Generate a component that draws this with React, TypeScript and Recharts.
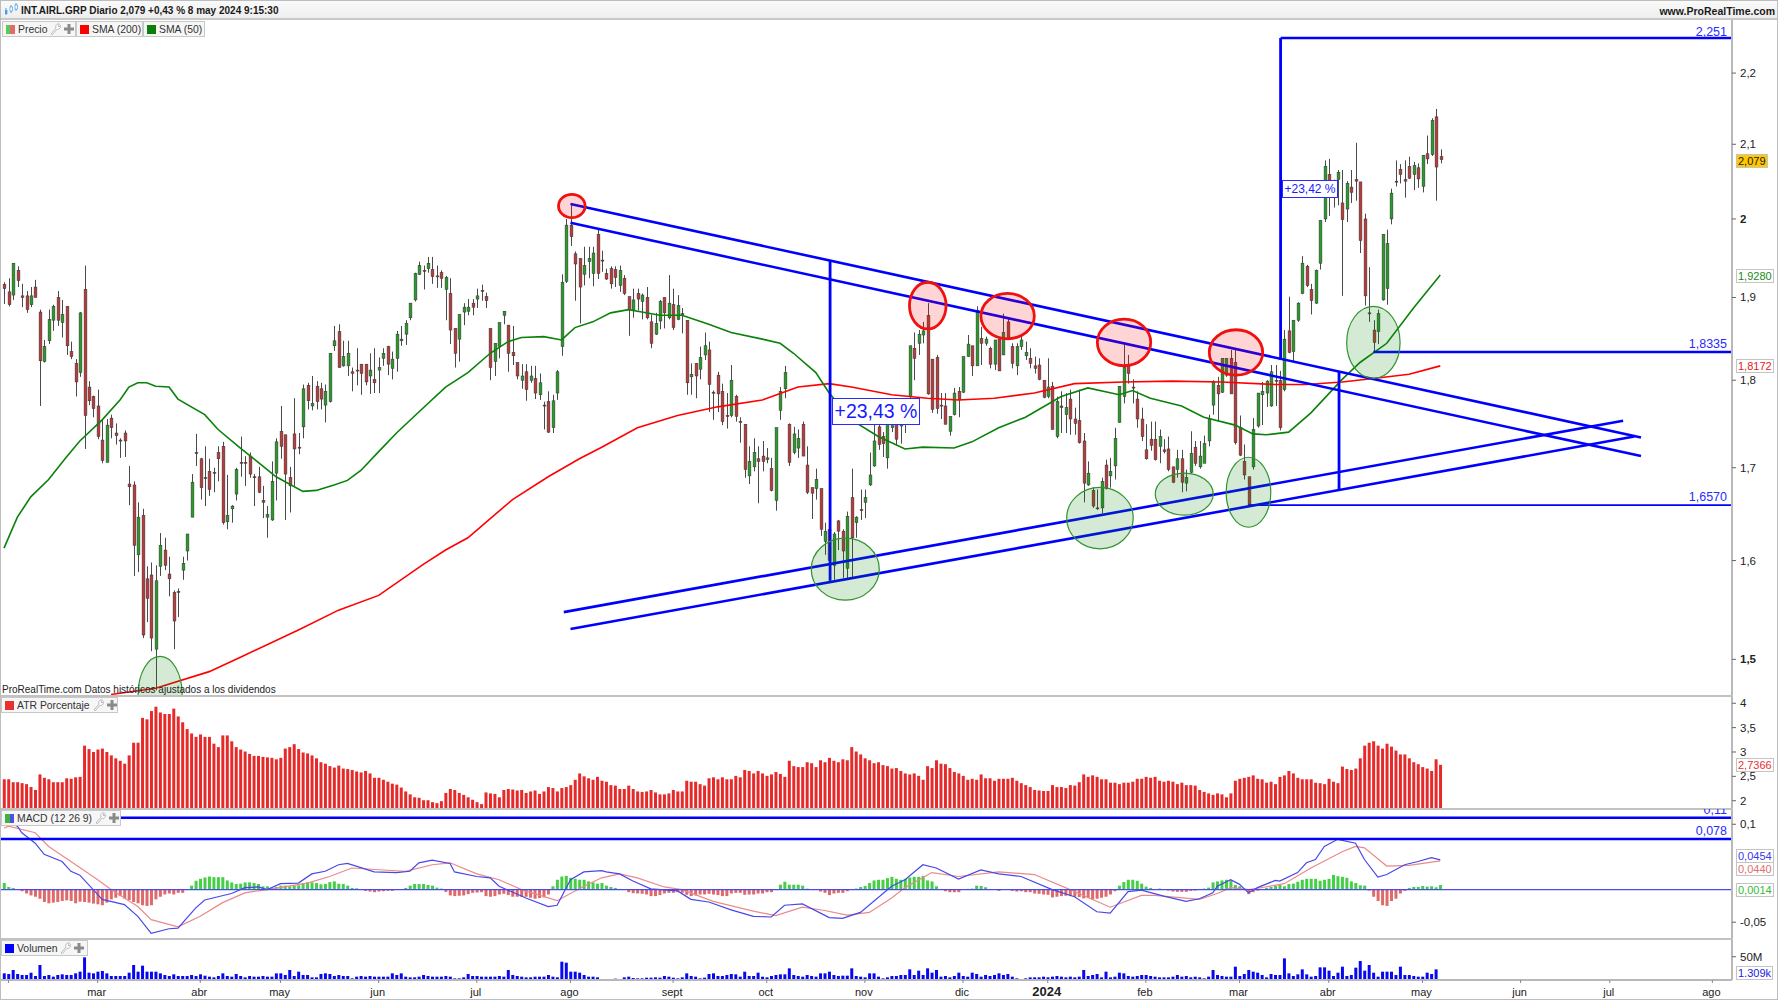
import React from "react";
import { ComposedChart, Bar, Line, XAxis, YAxis, ReferenceLine, ReferenceDot } from "recharts";

// ---- OHLC candles [open, high, low, close] ----
const candlesFebApr23 = [
[1.916,1.919,1.892,1.911],[1.907,1.924,1.889,1.891],[1.903,1.943,1.897,1.943],[1.934,1.939,1.913,1.921],[1.902,1.917,1.888,1.900],
[1.902,1.908,1.881,1.885],[1.891,1.913,1.888,1.902],[1.913,1.922,1.900,1.900],[1.882,1.885,1.770,1.823],[1.822,1.848,1.821,1.840],
[1.847,1.885,1.843,1.873],[1.872,1.891,1.859,1.889],[1.900,1.908,1.865,1.872],[1.869,1.897,1.851,1.879],[1.889,1.889,1.830,1.841],
[1.834,1.846,1.825,1.828],[1.820,1.825,1.781,1.798],[1.809,1.882,1.804,1.881],[1.910,1.940,1.721,1.759],[1.792,1.799,1.771,1.776],
[1.781,1.782,1.757,1.767],[1.770,1.789,1.732,1.735],[1.731,1.755,1.705,1.708],[1.706,1.755,1.706,1.748],[1.756,1.760,1.733,1.745],
[1.739,1.750,1.726,1.736],[1.731,1.733,1.711,1.730],[1.739,1.742,1.712,1.730],[1.682,1.702,1.659,1.679],[1.681,1.685,1.584,1.616],
[1.606,1.662,1.588,1.646],[1.648,1.655,1.521,1.524],[1.581,1.594,1.537,1.561],[1.585,1.598,1.508,1.521],[1.510,1.595,1.470,1.579],
[1.594,1.629,1.584,1.616],[1.611,1.624,1.590,1.595],[1.586,1.604,1.563,1.581],[1.567,1.569,1.510,1.538],[1.568,1.571,1.542,1.567],
[1.590,1.604,1.580,1.597],[1.610,1.628,1.600,1.628],[1.646,1.693,1.646,1.684],[1.717,1.738,1.702,1.716],[1.710,1.711,1.665,1.678],
[1.689,1.724,1.658,1.689],[1.696,1.710,1.669,1.676],[1.695,1.700,1.673,1.694],[1.717,1.724,1.685,1.710],[1.724,1.729,1.638,1.640],
[1.641,1.692,1.633,1.648],[1.655,1.659,1.640,1.658],[1.671,1.700,1.664,1.698],[1.706,1.735,1.690,1.705],[1.706,1.713,1.680,1.705],
[1.713,1.717,1.689,1.693],[1.690,1.693,1.658,1.689],[1.690,1.701,1.672,1.673],[1.664,1.680,1.645,1.662],[1.646,1.658,1.624,1.649],
[1.643,1.707,1.642,1.685],[1.694,1.733,1.664,1.729],[1.741,1.770,1.710,1.724],[1.737,1.737,1.643,1.693]];
const candlesMayAug23 = [
[1.689,1.701,1.651,1.680],[1.738,1.779,1.680,1.721],[1.723,1.739,1.715,1.722],[1.746,1.795,1.733,1.790],[1.794,1.797,1.766,1.776],
[1.770,1.805,1.765,1.773],[1.793,1.799,1.766,1.775],[1.790,1.797,1.766,1.778],[1.771,1.795,1.751,1.787],[1.775,1.832,1.774,1.832],
[1.841,1.865,1.835,1.847],[1.858,1.867,1.815,1.815],[1.817,1.847,1.816,1.828],[1.817,1.847,1.805,1.832],[1.810,1.815,1.787,1.808],
[1.812,1.838,1.794,1.811],[1.819,1.819,1.783,1.808],[1.819,1.819,1.794,1.798],[1.805,1.832,1.784,1.812],[1.801,1.838,1.785,1.797],
[1.812,1.827,1.785,1.815],[1.826,1.838,1.817,1.832],[1.840,1.841,1.806,1.819],[1.814,1.834,1.801,1.825],[1.826,1.859,1.810,1.855],
[1.847,1.865,1.841,1.849],[1.855,1.872,1.842,1.868],[1.875,1.893,1.872,1.893],[1.897,1.931,1.895,1.930],[1.929,1.945,1.928,1.940],
[1.934,1.940,1.910,1.933],[1.936,1.951,1.931,1.943],[1.935,1.951,1.917,1.926],[1.927,1.940,1.912,1.926],[1.931,1.934,1.912,1.924],
[1.910,1.927,1.872,1.925],[1.905,1.924,1.843,1.860],[1.862,1.862,1.815,1.832],[1.849,1.879,1.822,1.879],[1.882,1.893,1.866,1.888],
[1.883,1.898,1.878,1.888],[1.893,1.898,1.878,1.888],[1.898,1.911,1.887,1.902],[1.909,1.916,1.896,1.908],[1.901,1.906,1.887,1.896],
[1.862,1.862,1.800,1.815],[1.822,1.844,1.805,1.844],[1.840,1.869,1.826,1.869],[1.878,1.883,1.867,1.883],[1.866,1.866,1.810,1.832],
[1.833,1.865,1.818,1.829],[1.821,1.821,1.801,1.805],[1.800,1.819,1.790,1.805],[1.810,1.819,1.776,1.789],[1.800,1.817,1.797,1.805],
[1.802,1.817,1.778,1.785],[1.783,1.808,1.777,1.797],[1.771,1.775,1.743,1.770],[1.775,1.787,1.739,1.740],[1.745,1.783,1.739,1.776],
[1.785,1.812,1.777,1.810],[1.840,1.929,1.829,1.919],[1.920,2.000,1.918,1.992]];
const candlesAugOct23 = [
[1.992,2.018,1.965,1.977],[1.955,1.958,1.896,1.942],[1.949,1.949,1.868,1.913],[1.929,1.964,1.915,1.940],[1.945,1.964,1.924,1.949],
[1.930,1.964,1.914,1.956],[1.980,1.986,1.923,1.930],[1.947,1.959,1.932,1.946],[1.930,1.936,1.922,1.923],[1.936,1.939,1.911,1.917],
[1.935,1.939,1.913,1.925],[1.915,1.940,1.907,1.934],[1.924,1.928,1.903,1.905],[1.901,1.901,1.853,1.885],[1.884,1.911,1.875,1.897],
[1.905,1.911,1.884,1.898],[1.895,1.905,1.873,1.903],[1.900,1.913,1.873,1.875],[1.870,1.879,1.838,1.844],[1.855,1.881,1.854,1.868],
[1.871,1.897,1.861,1.895],[1.900,1.900,1.862,1.881],[1.875,1.928,1.873,1.893],[1.891,1.911,1.860,1.863],[1.873,1.903,1.872,1.890],
[1.880,1.887,1.856,1.879],[1.872,1.872,1.783,1.797],[1.804,1.820,1.783,1.807],[1.820,1.820,1.779,1.805],[1.813,1.840,1.801,1.827],
[1.830,1.857,1.824,1.841],[1.836,1.846,1.763,1.795],[1.786,1.788,1.754,1.785],[1.806,1.810,1.763,1.784],[1.787,1.796,1.748,1.752],
[1.759,1.785,1.744,1.758],[1.759,1.818,1.757,1.800],[1.781,1.783,1.752,1.758],[1.752,1.757,1.728,1.751],[1.749,1.749,1.689,1.698],
[1.691,1.724,1.682,1.707],[1.701,1.733,1.696,1.717],[1.710,1.724,1.661,1.707],[1.713,1.730,1.696,1.707],[1.709,1.722,1.705,1.711],
[1.699,1.711,1.674,1.675],[1.664,1.745,1.653,1.745],[1.765,1.792,1.754,1.787],[1.790,1.817,1.779,1.809],[1.749,1.750,1.702,1.706],
[1.717,1.746,1.715,1.738],[1.722,1.743,1.711,1.733],[1.749,1.752,1.713,1.713],[1.703,1.724,1.671,1.673],[1.678,1.678,1.644,1.672],
[1.677,1.699,1.665,1.687],[1.677,1.677,1.626,1.633],[1.620,1.640,1.606,1.631],[1.633,1.640,1.579,1.600],[1.595,1.630,1.580,1.628],
[1.642,1.643,1.611,1.631],[1.631,1.633,1.582,1.610],[1.592,1.652,1.582,1.647],[1.667,1.699,1.582,1.624]];
const candlesNov23Jan24 = [
[1.640,1.647,1.624,1.646],[1.654,1.676,1.643,1.653],[1.662,1.676,1.645,1.667],[1.681,1.717,1.680,1.692],[1.702,1.749,1.701,1.730],
[1.746,1.760,1.720,1.726],[1.735,1.740,1.712,1.727],[1.711,1.750,1.699,1.749],[1.745,1.760,1.740,1.749],[1.749,1.760,1.725,1.732],
[1.747,1.760,1.727,1.749],[1.752,1.766,1.739,1.756],[1.781,1.841,1.775,1.841],[1.838,1.857,1.800,1.826],[1.844,1.860,1.830,1.855],
[1.854,1.870,1.844,1.859],[1.878,1.893,1.783,1.784],[1.825,1.825,1.762,1.766],[1.827,1.830,1.761,1.767],[1.771,1.785,1.755,1.770],
[1.770,1.785,1.749,1.749],[1.741,1.758,1.736,1.758],[1.760,1.791,1.759,1.785],[1.787,1.792,1.757,1.777],[1.786,1.828,1.785,1.828],
[1.828,1.854,1.828,1.843],[1.841,1.841,1.805,1.817],[1.817,1.889,1.817,1.884],[1.850,1.864,1.818,1.844],[1.844,1.852,1.841,1.849],
[1.838,1.840,1.814,1.819],[1.819,1.848,1.812,1.848],[1.849,1.849,1.811,1.811],[1.830,1.880,1.830,1.857],[1.870,1.874,1.848,1.850],
[1.840,1.844,1.814,1.820],[1.817,1.844,1.806,1.840],[1.840,1.852,1.836,1.848],[1.829,1.846,1.824,1.833],[1.826,1.838,1.814,1.820],
[1.817,1.828,1.808,1.814],[1.818,1.826,1.800,1.801],[1.800,1.800,1.779,1.780],[1.781,1.826,1.779,1.792],[1.793,1.798,1.743,1.743],
[1.735,1.781,1.733,1.775],[1.770,1.787,1.739,1.768],[1.760,1.785,1.739,1.768],[1.778,1.789,1.737,1.755],[1.755,1.768,1.737,1.750],
[1.753,1.789,1.727,1.728],[1.730,1.739,1.662,1.683],[1.681,1.707,1.680,1.694],[1.675,1.678,1.656,1.658],[1.656,1.676,1.654,1.655],
[1.656,1.689,1.650,1.685],[1.703,1.709,1.676,1.677],[1.691,1.711,1.678,1.696],[1.702,1.745,1.687,1.733]];
const candlesFebMay24 = [
[1.751,1.793,1.751,1.793],[1.781,1.842,1.773,1.815],[1.818,1.830,1.796,1.808],[1.792,1.801,1.773,1.791],[1.778,1.787,1.745,1.755],
[1.755,1.768,1.730,1.735],[1.720,1.749,1.709,1.710],[1.732,1.752,1.719,1.725],[1.732,1.752,1.708,1.709],[1.724,1.743,1.705,1.735],
[1.720,1.732,1.716,1.718],[1.721,1.735,1.696,1.698],[1.701,1.701,1.683,1.684],[1.698,1.720,1.689,1.710],[1.710,1.720,1.673,1.684],
[1.683,1.698,1.674,1.689],[1.695,1.741,1.694,1.716],[1.723,1.730,1.702,1.705],[1.701,1.730,1.699,1.713],[1.705,1.736,1.705,1.727],
[1.730,1.760,1.724,1.755],[1.771,1.800,1.760,1.798],[1.794,1.804,1.752,1.784],[1.786,1.826,1.785,1.826],[1.806,1.826,1.804,1.826],
[1.826,1.836,1.784,1.784],[1.821,1.836,1.726,1.728],[1.745,1.759,1.713,1.714],[1.707,1.726,1.687,1.692],[1.690,1.690,1.658,1.659],
[1.701,1.756,1.698,1.743],[1.747,1.785,1.745,1.785],[1.783,1.798,1.748,1.787],[1.785,1.800,1.769,1.799],[1.770,1.818,1.769,1.810],
[1.800,1.818,1.770,1.799],[1.800,1.811,1.742,1.745],[1.789,1.860,1.787,1.849],[1.859,1.901,1.832,1.833],[1.834,1.872,1.822,1.872],
[1.872,1.894,1.870,1.893],[1.905,1.952,1.904,1.943],[1.939,1.941,1.913,1.915],[1.910,1.917,1.879,1.896],[1.893,1.935,1.892,1.934],
[1.943,1.998,1.935,1.998],[2.000,2.078,1.996,2.070],[2.059,2.080,2.004,2.048],[2.040,2.052,2.015,2.030],[2.052,2.065,2.018,2.062],
[2.021,2.065,1.902,1.999],[2.013,2.050,1.996,2.047],[2.042,2.065,2.021,2.035],[2.052,2.102,2.024,2.050],[2.049,2.049,1.956,1.972],
[2.000,2.007,1.890,1.902],[1.881,1.938,1.870,1.880],[1.860,1.872,1.8335,1.845],[1.858,1.885,1.843,1.880],[1.897,1.980,1.896,1.980],
[1.911,1.986,1.891,1.968],[2.000,2.040,1.993,2.034],[2.050,2.078,2.043,2.049],[2.066,2.073,2.047,2.059],[2.052,2.078,2.028,2.050],
[2.070,2.083,2.053,2.054],[2.059,2.076,2.038,2.071],[2.068,2.074,2.041,2.053],[2.043,2.085,2.035,2.085],[2.087,2.112,2.073,2.080],
[2.086,2.136,2.084,2.133],[2.138,2.149,2.024,2.069],[2.083,2.093,2.074,2.079]];
const candles = [...candlesFebApr23, ...candlesMayAug23, ...candlesAugOct23, ...candlesNov23Jan24, ...candlesFebMay24];

// ---- moving averages read at [bar, value] ----
const sma50 = [[0,1.613],[3,1.646],[6,1.668],[10,1.687],[14,1.712],[17,1.730],[22,1.754],[26,1.777],[28,1.792],[30,1.797],[32,1.797],[34,1.793],[37,1.792],[39,1.778],[45,1.760],[48,1.743],[53,1.722],[57,1.706],[61,1.690],[67,1.674],[70,1.675],[74,1.681],[77,1.686],[80,1.697],[84,1.718],[88,1.739],[93,1.763],[99,1.792],[104,1.809],[109,1.832],[113,1.846],[116,1.851],[121,1.852],[125,1.848],[128,1.863],[132,1.870],[136,1.881],[140,1.885],[143,1.882],[147,1.878],[152,1.878],[158,1.867],[163,1.857],[170,1.849],[174,1.844],[177,1.832],[182,1.809],[185,1.785],[190,1.754],[196,1.735],[202,1.721],[206,1.723],[213,1.722],[217,1.729],[223,1.745],[229,1.757],[237,1.781],[243,1.791],[250,1.783],[253,1.788],[257,1.779],[264,1.770],[269,1.757],[276,1.748],[280,1.738],[283,1.737],[288,1.740],[293,1.762],[300,1.801],[304,1.821],[310,1.844],[316,1.887],[322,1.928]];
const sma200 = [[24,1.466],[34,1.472],[46,1.488],[53,1.502],[66,1.529],[75,1.549],[84,1.564],[94,1.596],[99,1.611],[104,1.624],[114,1.665],[122,1.690],[129,1.710],[134,1.723],[142,1.745],[151,1.759],[160,1.769],[170,1.777],[178,1.792],[185,1.796],[190,1.792],[199,1.783],[207,1.779],[214,1.777],[222,1.779],[231,1.785],[240,1.796],[251,1.798],[262,1.799],[273,1.798],[285,1.795],[292,1.795],[300,1.798],[307,1.802],[315,1.807],[322,1.817]];

// ---- ATR % ----
const atrA = [2.44,2.44,2.38,2.38,2.36,2.34,2.28,2.22,2.54,2.47,2.44,2.38,2.38,2.38,2.46,2.45,2.48,2.49,3.13,3.06,3.00,3.05,3.07,3.00,2.93,2.87,2.82,2.76,2.93,3.19,3.19,3.70,3.67,3.84,3.93,3.81,3.78,3.78,3.89,3.73,3.61,3.47,3.38,3.31,3.36,3.31,3.31,3.17,3.10,3.34,3.34,3.22,3.10,3.05,3.01,2.96,2.92,2.92,2.90,2.89,2.88,2.85,2.88,3.07,3.10,3.16,3.06,2.99,2.97,2.93,2.87,2.79,2.76,2.71,2.68,2.72,2.66,2.65,2.63,2.60,2.58,2.61,2.56,2.47,2.47,2.43,2.39,2.35,2.33,2.27,2.19,2.13,2.07,2.06,2.01,2.01,1.97,1.95,1.99,2.16,2.24,2.22,2.16,2.12,2.07,2.02,1.97,1.93,2.17,2.15,2.14,2.07,2.22,2.24,2.23,2.21,2.22,2.16,2.19,2.21,2.14,2.19,2.28,2.26,2.19,2.26,2.28,2.32,2.43,2.56,2.50,2.46,2.43,2.49];
const atrB = [2.41,2.39,2.32,2.31,2.24,2.24,2.31,2.24,2.19,2.18,2.19,2.22,2.17,2.13,2.13,2.15,2.22,2.19,2.19,2.41,2.39,2.39,2.34,2.31,2.46,2.48,2.44,2.48,2.44,2.44,2.51,2.48,2.63,2.61,2.56,2.61,2.56,2.51,2.54,2.59,2.55,2.49,2.82,2.71,2.69,2.69,2.79,2.77,2.69,2.83,2.79,2.88,2.82,2.79,2.85,2.83,3.10,3.01,2.95,2.87,2.83,2.77,2.79,2.73,2.71,2.66,2.67,2.61,2.56,2.54,2.56,2.51,2.43,2.71,2.67,2.83,2.76,2.75,2.67,2.59,2.56,2.51,2.43,2.45,2.43,2.54,2.46,2.46,2.41,2.45,2.45,2.45,2.47,2.41,2.36,2.32,2.28,2.22,2.21,2.20,2.20,2.32,2.28,2.28,2.26,2.32,2.31,2.38,2.54,2.49,2.52,2.49,2.44,2.44,2.37,2.37,2.34,2.37,2.37,2.39,2.45,2.45,2.49,2.47,2.49,2.41,2.39,2.41,2.39,2.34,2.37,2.32,2.32,2.31,2.22];
const atrC = [2.18,2.15,2.12,2.15,2.13,2.07,2.15,2.41,2.45,2.47,2.49,2.52,2.45,2.44,2.37,2.39,2.34,2.49,2.52,2.61,2.56,2.47,2.44,2.44,2.44,2.37,2.36,2.34,2.45,2.39,2.36,2.70,2.65,2.63,2.66,2.87,3.13,3.19,3.22,3.13,3.07,3.17,3.11,3.03,2.95,2.95,2.87,2.79,2.75,2.69,2.66,2.61,2.85,2.7366];
const atrPct = [...atrA, ...atrB, ...atrC];

// ---- MACD ----
const macdHistA = [10,4,2.5,0,-2.5,-6,-9,-11,-14,-19,-21,-20,-19,-17.5,-16.5,-17.5,-21,-18.5,-19,-20,-21.5,-22.5,-24,-20,-15,-12.5,-10,-14,-16,-19,-21,-24,-25,-24,-15,-11,-7.5,-6,-7.5,-5,-5,0,6,13.5,16.5,18.5,20,19,19,19,14,11,8.5,9,11,11,10,8.5,5,5,2.5,4,6,6,5,6,6.5,10,11,11,10,8,8.5,11.5,12.5,9,8.5,6,2.5,2,0,-2,-3,-4,-3,-2.5,-2,-2,0,0,2.5,6,8.5,8.5,8.5,7,6,3,1.5,-3.5,-9,-10,-9.5,-9,-7,-5,-4.5,-4,-10,-11,-10,-7.5,-6.5,-8.5,-11,-11,-11,-11,-12.5,-14,-13,-12,-7.5,5,15,20,21,18,16.5,15,15,12.5,11,9];
const macdHistB = [10,6,4,2.5,1,0,-4,-5.5,-6,-6.5,-7.5,-10,-10,-8.5,-6,-5,-5,-4,-5,-8,-10,-9,-7.5,-7.5,-6.5,-7.5,-8.5,-10,-10,-6,-5,-5,-8,-7.5,-7.5,-6,-6,-4,-4,0,7.5,12,7.5,7.5,7.5,6,1.5,0,0,-3,-5,-8.5,-6,-5,-5,-2.5,0,1.5,4,5.5,10,14,15,15,17.5,19.5,16.5,15,16.5,18.5,19.5,19.5,21,14,12.5,5,1,-2.5,-4,-4,-4,0,1,1.5,6,5.5,3.5,1,0.5,-2,0,0,-2,-3,-2.5,-4,-4,-6,-6.5,-7.5,-8,-12,-11,-10,-9.5,-10,-11,-11.5,-13.5,-13,-15,-14,-12.5,-11,-7.5,-2.5,6,11.5,15,15,13.5,9,4.5,2.5,0,1.5,0,-1.5,-3,-3.5,-3.5,-3.5,-2,-1.5,1];
const macdHistC = [1.5,3,11,12.5,14,15,14,7,5,1.5,-7,-4,-1.5,1,2.5,4,5.5,7,5,8.5,9,12,15,16.5,16.5,16.5,13.5,15,16.5,22.5,20.5,19.5,18,12.5,10,6.5,6,-1.5,-11,-17.5,-24,-25,-17.5,-14,-6,-2,2.5,4,4,5.5,4.5,5,3.5,7];
const macdHist = [...macdHistA, ...macdHistB, ...macdHistC, 4, 1.4].slice(0, 323);
const macdLine = [[0,0.1046],[3,0.097],[4,0.087],[7,0.071],[9,0.054],[13,0.043],[15,0.028],[17,0.022],[20,0],[22,-0.015],[27,-0.023],[30,-0.041],[33,-0.067],[37,-0.060],[39,-0.059],[43,-0.028],[45,-0.016],[51,-0.006],[54,0.003],[57,0.004],[59,0],[62,0.009],[66,0.010],[69,0.024],[72,0.028],[75,0.038],[77,0.040],[83,0.027],[88,0.026],[91,0.028],[93,0.041],[96,0.045],[100,0.040],[101,0.027],[106,0.020],[109,0.018],[111,0.005],[117,-0.013],[122,-0.026],[124,-0.024],[127,0.015],[130,0.027],[134,0.029],[135,0.027],[138,0.024],[141,0.013],[145,0.001],[151,-0.002],[154,-0.015],[158,-0.019],[163,-0.031],[168,-0.041],[172,-0.042],[175,-0.024],[179,-0.022],[185,-0.043],[188,-0.044],[192,-0.035],[199,0.005],[202,0.015],[206,0.038],[209,0.033],[214,0.016],[219,0.030],[223,0.024],[228,0.020],[235,0],[240,-0.011],[245,-0.034],[248,-0.036],[252,-0.003],[255,-0.001],[260,-0.010],[265,-0.018],[268,-0.014],[271,-0.005],[272,0.005],[275,0.015],[277,0.008],[279,-0.005],[281,0.003],[285,0.014],[286,0.013],[290,0.026],[292,0.041],[294,0.046],[296,0.066],[299,0.077],[303,0.071],[305,0.046],[308,0.019],[310,0.023],[314,0.038],[317,0.043],[320,0.049],[322,0.0454]];
const signalLine = [[0,0.094],[1,0.097],[7,0.087],[10,0.066],[15,0.043],[21,0.015],[24,0],[30,-0.026],[33,-0.046],[39,-0.057],[44,-0.041],[49,-0.020],[54,-0.005],[59,0],[68,0.010],[73,0.020],[78,0.033],[85,0.030],[90,0.028],[96,0.038],[100,0.041],[106,0.024],[111,0.015],[116,0],[124,-0.017],[130,0.005],[134,0.018],[138,0.024],[142,0.018],[148,0.004],[152,0],[159,-0.018],[168,-0.033],[173,-0.040],[179,-0.027],[184,-0.032],[189,-0.039],[194,-0.035],[199,-0.013],[202,0.003],[208,0.026],[214,0.020],[223,0.027],[231,0.023],[239,0],[248,-0.027],[255,-0.009],[258,-0.009],[268,-0.015],[272,-0.006],[275,0.003],[279,0],[281,0.002],[287,0.009],[293,0.033],[300,0.058],[303,0.066],[305,0.064],[310,0.036],[315,0.037],[322,0.044]];

// ---- volume, unit = 0.715 M shares ----
const VOLUME_UNIT_M = 0.715;
const volA = [20,18,30,18,15,15,22,12,45,12,15,10,15,17,15,15,20,25,68,22,20,25,27,20,12,12,12,12,22,45,25,43,25,25,25,20,15,12,17,12,12,12,15,12,17,13,10,8,12,20,12,10,18,12,8,12,10,10,12,10,10,20,20,15,30,12,25,15,15,8,8,18,20,18,12,15,12,12,5,10,12,10,12,10,10,10,10,20,15,20,10,8,8,10,15,12,10,10,10,12,10,5,5,8,18,12,12,10,10,10,10,12,10,30,15,12,10,8,8,10,10,10,15,10,8,55,52,25,25,22,15,10,10,8];
const volB = [3,3,3,4,3,8,10,6,5,5,7,7,8,7,12,10,7,5,8,20,12,10,5,7,18,20,12,12,15,18,17,10,25,12,12,22,10,8,12,15,17,17,35,15,12,10,15,12,10,20,20,25,15,12,13,13,35,12,10,8,20,20,10,5,8,12,12,15,15,32,15,28,15,35,22,30,10,12,8,12,22,12,10,22,18,10,15,12,15,20,15,18,10,5,3,5,8,8,8,10,8,10,12,10,8,10,8,10,30,12,15,18,8,25,8,10,22,20,12,10,12,15,15,12,10,8,8,8,10,15,10,12,8,10,8];
const volC = [5,10,30,15,12,10,10,40,12,18,30,25,22,15,8,18,15,15,65,20,12,17,32,17,10,12,38,38,28,12,22,40,12,15,37,57,28,45,22,10,25,25,25,15,40,15,15,12,10,10,22,18,32,2];
const volumeLots = [...volA, ...volB, ...volC];

// ---- axes ----
const priceTicks = [1.5, 1.6, 1.7, 1.8, 1.9, 2, 2.1, 2.2];
const atrTicks = [2, 2.5, 3, 3.5, 4];
const macdTicks = [-0.05, 0.1];
const volumeTicks = [50];
const monthTickBars = [1, 21, 44, 62, 84, 106, 127, 150, 171, 193, 215, 234, 256, 277, 297, 318, 340, 360, 383];
const monthTickLabels = ["", "mar", "abr", "may", "jun", "jul", "ago", "sept", "oct", "nov", "dic", "2024", "feb", "mar", "abr", "may", "jun", "jul", "ago"];

// ---- drawn annotations, in bar / price units ----
const trendLines = [
  [127, 2.0197, 367, 1.734],
  [127, 1.995, 367, 1.713],
  [125.5, 1.547, 363, 1.753],
  [127, 1.53, 365.5, 1.735],
];
const verticalLines = [
  [185.2, 1.946, 1.579],
  [286.2, 2.251, 1.824],
  [299.3, 1.81, 1.675],
];
const levelLines = [
  [286.2, 2.251, 2.6],
  [307, 1.8335, 2.6],
  [279, 1.659, 1.6],
];
const redEllipses = [[127.3, 2.017, 13.3, 11.7], [207.1, 1.89, 18.3, 23.3], [225, 1.877, 26.7, 22.7], [251.1, 1.845, 26.7, 23.3], [276.2, 1.833, 26.7, 22.7]];
const greenEllipses = [[35, 1.466, 22, 38], [188.6, 1.591, 34, 31], [245.7, 1.645, 33.3, 30.7], [264.6, 1.671, 29, 21], [279, 1.673, 22.3, 35], [307, 1.845, 26.7, 36]];

// ---- build rows ----
const rows: any[] = candles.map((c, i) => ({
  i, o: c[0], h: c[1], l: c[2], c: c[3], range: [c[2], c[1]],
  atr: atrPct[i], hist: (macdHist[i] ?? 0) / 1000, vol: (volumeLots[i] ?? 0) * VOLUME_UNIT_M,
}));
const put = (pts: number[][], key: string) => pts.forEach(([i, v]) => { if (rows[i]) rows[i][key] = v; });
put(sma50, "sma50"); put(sma200, "sma200"); put(macdLine, "macd"); put(signalLine, "signal");

const W = 1778, AXIS_W = 46, BLUE = "#0000ff", FONT = "'Liberation Sans', Arial, sans-serif";
const XDOMAIN: [number, number] = [-0.897, 387.4];
const comma = (v: number) => String(v).replace(".", ",");

const Candle = (p: any) => {
  const { x, y, width, height, payload } = p;
  const { o, h, l, c } = payload;
  const cx = Math.round(x + width / 2) + 0.5;
  const k = h > l ? height / Math.log(h / l) : 0;
  const yOf = (v: number) => y + Math.log(h / v) * k;
  const top = yOf(Math.max(o, c)), bot = yOf(Math.min(o, c));
  return (
    <g>
      <line x1={cx} x2={cx} y1={y} y2={y + height} stroke="#4a4a4a" strokeWidth={1} />
      <rect x={cx - 1.4} y={top} width={2.8} height={Math.max(bot - top, 1)} fill={c >= o ? "#2a9a2a" : "#b83c3c"} stroke="#333" strokeWidth={0.5} />
    </g>
  );
};

const HistBar = (p: any) => {
  const { x, y, width, height, payload } = p;
  return <rect x={x} y={Math.min(y, y + height)} width={width} height={Math.abs(height)} fill={payload.hist >= 0 ? "#44cf44" : "#e06a6a"} />;
};

const axisTick = (fmt: (v: number) => string, boldSet: number[] = []) => (p: any) => (
  <text x={p.x + 2} y={p.y + 4} fontSize={11.5} fontFamily={FONT} fontWeight={boldSet.includes(p.payload.value) ? 700 : 400} fill="#222">
    {fmt(p.payload.value)}
  </text>
);

const monthTick = (p: any) => {
  const label = monthTickLabels[monthTickBars.indexOf(p.payload.value)];
  const bold = label === "2024";
  return (
    <text x={p.x - 1} y={p.y + 11} textAnchor="middle" fontSize={bold ? 13 : 11} fontWeight={bold ? 700 : 400} fontFamily={FONT} fill="#222">
      {label}
    </text>
  );
};

const seg = (x1: number, y1: number, x2: number, y2: number): any => [{ x: x1, y: y1 }, { x: x2, y: y2 }];

const Wrench = () => (
  <svg width="11" height="12" viewBox="0 0 11 12" style={{ marginLeft: 3 }}>
    <path d="M1 11 L6 5 C5 2 7 0.5 9.5 1 L8 3 L9 4 L10.5 2.5 C11 5 9 7 7 6.2 L2.5 11.5 Z" fill="#fff" stroke="#aaa" strokeWidth="0.8" />
  </svg>
);
const Plus = () => (
  <svg width="10" height="10" viewBox="0 0 10 10" style={{ marginLeft: 3 }}>
    <path d="M3.5 0 H6.5 V3.5 H10 V6.5 H6.5 V10 H3.5 V6.5 H0 V3.5 H3.5 Z" fill="#8a8a8a" />
  </svg>
);
const Legend = ({ left, top, width, children }: any) => (
  <div style={{ position: "absolute", left, top, width, height: 16, background: "#f6f6f6", border: "1px solid #c8c8c8", boxSizing: "border-box", display: "flex", alignItems: "center", fontSize: 10.4, color: "#333", paddingLeft: 3, whiteSpace: "nowrap", zIndex: 5 }}>
    {children}
  </div>
);
const Sw = ({ c, c2 }: any) => (
  <span style={{ display: "inline-block", width: 9, height: 9, marginRight: 3, background: c2 ? `linear-gradient(90deg, ${c} 50%, ${c2} 50%)` : c }} />
);
const Tag = ({ top, color, text, bg = "#fff" }: any) => (
  <div style={{ position: "absolute", left: 1736, top, height: 14, padding: "0 1px", lineHeight: "13px", fontSize: 11, color, background: bg, border: "1px solid #c4c4c4", boxSizing: "border-box", zIndex: 5 }}>{text}</div>
);
const Lvl = ({ top, text, right = 51 }: any) => (
  <div style={{ position: "absolute", right, top, fontSize: 12.5, lineHeight: "14px", color: "#2a2aff", zIndex: 4 }}>{text}</div>
);
const Panel = ({ top, height, children }: any) => (
  <div style={{ position: "absolute", left: 0, top, width: W, height, background: "#fff", overflow: "hidden" }}>{children}</div>
);

const hideX = <XAxis type="number" dataKey="i" domain={XDOMAIN} hide allowDataOverflow />;

export default function App() {
  return (
    <div style={{ position: "absolute", left: 0, top: 0, width: W, height: 1000, background: "#fff", overflow: "hidden", fontFamily: FONT }}>
      {/* price panel */}
      <Panel top={20} height={676}>
        <ComposedChart width={W} height={676} data={rows} margin={{ top: 0, right: 0, bottom: 0, left: 0 }}>
          {hideX}
          <YAxis yAxisId="p" orientation="right" width={AXIS_W} scale="log" type="number" domain={[1.4645, 2.2776]} allowDataOverflow ticks={priceTicks} interval={0}
            tick={axisTick(comma, [2, 1.5])} tickSize={4} axisLine={{ stroke: "#b8b8b8", strokeWidth: 2 }} tickLine={{ stroke: "#666" }} />
          <Bar yAxisId="p" dataKey="range" barSize={3} shape={Candle} isAnimationActive={false} />
          <Line yAxisId="p" dataKey="sma200" type="linear" stroke="#ff0000" strokeWidth={1.6} dot={false} connectNulls isAnimationActive={false} />
          <Line yAxisId="p" dataKey="sma50" type="linear" stroke="#0a820a" strokeWidth={1.6} dot={false} connectNulls isAnimationActive={false} />
          {greenEllipses.map((e, n) => (
            <ReferenceDot key={"g" + n} yAxisId="p" x={e[0]} y={e[1]} r={1} ifOverflow="visible"
              shape={(p: any) => <ellipse cx={p.cx} cy={p.cy} rx={e[2]} ry={e[3]} fill="rgba(0,128,0,0.17)" stroke="#2f932f" strokeWidth={1.2} />} />
          ))}
          {redEllipses.map((e, n) => (
            <ReferenceDot key={"r" + n} yAxisId="p" x={e[0]} y={e[1]} r={1} ifOverflow="visible"
              shape={(p: any) => <ellipse cx={p.cx} cy={p.cy} rx={e[2]} ry={e[3]} fill="rgba(255,0,0,0.17)" stroke="#f01010" strokeWidth={2.8} />} />
          ))}
          {trendLines.map((t, n) => (
            <ReferenceLine key={"t" + n} yAxisId="p" segment={seg(t[0], t[1], t[2], t[3])} stroke={BLUE} strokeWidth={2.6} ifOverflow="visible" />
          ))}
          {verticalLines.map((t, n) => (
            <ReferenceLine key={"v" + n} yAxisId="p" segment={seg(t[0], t[1], t[0], t[2])} stroke={BLUE} strokeWidth={2.8} ifOverflow="visible" />
          ))}
          {levelLines.map((t, n) => (
            <ReferenceLine key={"l" + n} yAxisId="p" segment={seg(t[0], t[1], XDOMAIN[1], t[1])} stroke={BLUE} strokeWidth={t[2]} ifOverflow="visible" />
          ))}
        </ComposedChart>
      </Panel>

      {/* ATR panel */}
      <Panel top={696} height={113}>
        <ComposedChart width={W} height={113} data={rows} margin={{ top: 0, right: 0, bottom: 0, left: 0 }}>
          {hideX}
          <YAxis orientation="right" width={AXIS_W} type="number" domain={[1.83, 4.149]} allowDataOverflow ticks={atrTicks} interval={0}
            tick={axisTick(comma)} tickSize={4} axisLine={{ stroke: "#b8b8b8", strokeWidth: 2 }} tickLine={{ stroke: "#666" }} />
          <Bar dataKey="atr" barSize={3} fill="#e62a2a" isAnimationActive={false} />
        </ComposedChart>
      </Panel>

      {/* MACD panel */}
      <Panel top={809} height={130}>
        <ComposedChart width={W} height={130} data={rows} margin={{ top: 0, right: 0, bottom: 0, left: 0 }}>
          {hideX}
          <YAxis orientation="right" width={AXIS_W} type="number" domain={[-0.0757, 0.1234]} allowDataOverflow ticks={macdTicks} interval={0}
            tick={axisTick(comma)} tickSize={4} axisLine={{ stroke: "#b8b8b8", strokeWidth: 2 }} tickLine={{ stroke: "#666" }} />
          <Bar dataKey="hist" barSize={3} shape={HistBar} isAnimationActive={false} />
          <Line dataKey="signal" type="linear" stroke="#ea8a8a" strokeWidth={1.2} dot={false} connectNulls isAnimationActive={false} />
          <Line dataKey="macd" type="linear" stroke="#4848e8" strokeWidth={1.2} dot={false} connectNulls isAnimationActive={false} />
          <ReferenceLine y={0} stroke="#4a4af0" strokeWidth={1.3} />
          <ReferenceLine y={0.11} stroke={BLUE} strokeWidth={2.4} />
          <ReferenceLine y={0.0775} stroke={BLUE} strokeWidth={2.4} />
        </ComposedChart>
      </Panel>

      {/* volume panel + time axis */}
      <Panel top={939} height={61}>
        <ComposedChart width={W} height={61} data={rows} margin={{ top: 0, right: 0, bottom: 0, left: 0 }}>
          <XAxis type="number" dataKey="i" domain={XDOMAIN} allowDataOverflow height={20} ticks={monthTickBars} interval={0} tick={monthTick} tickSize={3}
            axisLine={{ stroke: "#b8b8b8", strokeWidth: 2 }} tickLine={{ stroke: "#888" }} />
          <YAxis orientation="right" width={AXIS_W} type="number" domain={[0, 88]} allowDataOverflow ticks={volumeTicks} interval={0}
            tick={axisTick((v) => v + "M")} tickSize={4} axisLine={{ stroke: "#b8b8b8", strokeWidth: 2 }} tickLine={{ stroke: "#666" }} />
          <Bar dataKey="vol" barSize={3} fill="#0808f0" isAnimationActive={false} />
        </ComposedChart>
      </Panel>

      {/* panel separators and frame */}
      {[695, 808, 938].map((t) => <div key={t} style={{ position: "absolute", left: 0, top: t, width: 1733, height: 2, background: "#c2c2c2", zIndex: 3 }} />)}
      <div style={{ position: "absolute", left: 0, top: 0, width: W, height: 1000, border: "1px solid #bdbdbd", boxSizing: "border-box", zIndex: 6, pointerEvents: "none" }} />

      {/* header */}
      <div style={{ position: "absolute", left: 0, top: 0, width: W, height: 20, background: "linear-gradient(#fbfbfb,#eeeeee)", borderBottom: "2px solid #c8c8c8", boxSizing: "border-box", zIndex: 5 }}>
        <svg width="14" height="13" style={{ position: "absolute", left: 4, top: 3 }}>
          <path d="M2 5 V12 M7 2 V10 M12 0 V8" stroke="#4aa0e8" strokeWidth="1" />
          <rect x="1" y="7" width="2.4" height="4" fill="#4aa0e8" /><rect x="6" y="4" width="2.4" height="4" fill="#fff" stroke="#4aa0e8" strokeWidth="0.7" /><rect x="11" y="2" width="2.4" height="4" fill="#fff" stroke="#4aa0e8" strokeWidth="0.7" />
        </svg>
        <span style={{ position: "absolute", left: 21, top: 5, fontSize: 10, fontWeight: 700, color: "#1a1a1a", whiteSpace: "nowrap" }}>INT.AIRL.GRP Diario 2,079 +0,43 % 8 may 2024 9:15:30</span>
        <span style={{ position: "absolute", right: 3, top: 5, fontSize: 10.5, fontWeight: 700, color: "#1a1a1a" }}>www.ProRealTime.com</span>
      </div>

      {/* legends */}
      <Legend left={2} top={21} width={74}><Sw c="#5cc85c" c2="#e46a6a" />Precio<Wrench /><Plus /></Legend>
      <Legend left={76} top={21} width={67}><Sw c="#ff0000" />SMA (200)</Legend>
      <Legend left={143} top={21} width={62}><Sw c="#087f08" />SMA (50)</Legend>
      <Legend left={1} top={697} width={117}><Sw c="#e83030" />ATR Porcentaje<Wrench /><Plus /></Legend>
      <Legend left={1} top={810} width={120}><Sw c="#40b040" c2="#5050e0" />MACD (12 26 9)<Wrench /><Plus /></Legend>
      <Legend left={1} top={940} width={87}><Sw c="#0000ff" />Volumen<Wrench /><Plus /></Legend>

      <div style={{ position: "absolute", left: 2, top: 684, fontSize: 10, color: "#222", whiteSpace: "nowrap", zIndex: 4 }}>ProRealTime.com  Datos históricos ajustados a los dividendos</div>

      {/* level labels */}
      <Lvl top={25} text="2,251" />
      <Lvl top={337} text="1,8335" />
      <Lvl top={490} text="1,6570" />
      <div style={{ position: "absolute", left: 0, top: 809, width: 1732, height: 8, overflow: "hidden", zIndex: 4 }}>
        <div style={{ position: "absolute", right: 5, top: -6, fontSize: 12.5, lineHeight: "14px", color: "#2a2aff" }}>0,11</div>
      </div>
      <Lvl top={824} text="0,078" />

      {/* percentage boxes */}
      <div style={{ position: "absolute", left: 832, top: 398, width: 88, height: 27, boxSizing: "border-box", background: "#fff", border: "1px solid #2a2aff", color: "#1a1aff", fontSize: 19.5, lineHeight: "25px", textAlign: "center", whiteSpace: "nowrap", zIndex: 4 }}>+23,43 %</div>
      <div style={{ position: "absolute", left: 1282, top: 180, width: 56, height: 18, boxSizing: "border-box", background: "#fff", border: "1px solid #2a2aff", color: "#1a1aff", fontSize: 12, lineHeight: "16px", textAlign: "center", whiteSpace: "nowrap", zIndex: 4 }}>+23,42 %</div>

      {/* value tags */}
      <Tag top={154} color="#222" bg="#ffc800" text="2,079" />
      <Tag top={269} color="#178a17" text="1,9280" />
      <Tag top={359} color="#e82020" text="1,8172" />
      <Tag top={758} color="#e83030" text="2,7366" />
      <Tag top={849} color="#3a3ae8" text="0,0454" />
      <Tag top={862} color="#e07070" text="0,0440" />
      <Tag top={883} color="#33bb33" text="0,0014" />
      <Tag top={966} color="#1a1ae8" text="1.309k" />
    </div>
  );
}
